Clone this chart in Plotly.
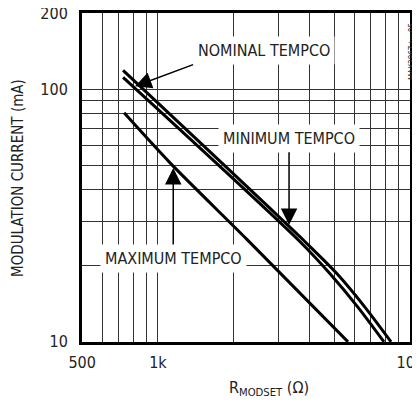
import math
import plotly.graph_objects as go

# Data (R_MODSET in ohms, modulation current in mA)
r_min = [727, 3836, 5140, 6640, 8420]
i_min = [118.6, 24.9, 18.6, 13.7, 10]
r_nom = [727, 3665, 4820, 6226, 7893]
i_nom = [111.3, 24.9, 18.6, 13.7, 10]
r_max = [734, 1117, 2260, 5680]
i_max = [80.6, 51.1, 25.4, 10]

x_tickvals = [500, 600, 700, 800, 900, 1000, 2000, 3000, 4000, 5000, 6000, 7000, 8000, 9000, 10000]
x_ticktext = ["500", "", "", "", "", "1k", "", "", "", "", "", "", "", "", "10k"]
y_tickvals = [10, 20, 30, 40, 50, 60, 70, 80, 90, 100, 200]
y_ticktext = ["10", "", "", "", "", "", "", "", "", "100", "200"]

FONT = "Liberation Sans Narrow, DejaVu Sans Condensed, Roboto Condensed, Arial Narrow, sans-serif"
TXT = "#222222"
LINE = dict(color="black", width=3, shape="spline", smoothing=0.8)
L = math.log10

fig = go.Figure()
for xs, ys, name in [(r_min, i_min, "MINIMUM TEMPCO"), (r_nom, i_nom, "NOMINAL TEMPCO"), (r_max, i_max, "MAXIMUM TEMPCO")]:
    fig.add_trace(go.Scatter(x=xs, y=ys, mode="lines", line=LINE, name=name, showlegend=False))

axis_common = dict(type="log", showgrid=True, gridcolor="#333333", gridwidth=1, showline=True,
                   linecolor="black", linewidth=3, mirror=True, ticks="", zeroline=False,
                   automargin=False, ticklabeloverflow="allow",
                   tickfont=dict(family=FONT, size=16, color=TXT))
fig.update_xaxes(range=[L(499.5), L(10010)], tickvals=x_tickvals, ticktext=x_ticktext,
                 ticklabelstandoff=4, **axis_common)
fig.update_yaxes(range=[L(9.99), L(200.2)], tickvals=y_tickvals, ticktext=y_ticktext,
                 ticklabelstandoff=8, **axis_common)

ann_font = dict(family=FONT, size=16, color=TXT)
arrow_kw = dict(showarrow=True, arrowhead=2, arrowwidth=1.5, arrowsize=2.2, arrowcolor="black",
                axref="x", ayref="y", xref="x", yref="y", font=ann_font, bgcolor="white", borderpad=4)

# labels with arrows: x,y = arrow tip; ax,ay = text anchor
fig.add_annotation(x=L(811), y=L(102.7), ax=L(1379), ay=L(125.1), text="NOMINAL TEMPCO",
                   xanchor="left", yanchor="bottom", **arrow_kw)
fig.add_annotation(x=L(3314), y=L(29.0), ax=L(3314), ay=L(63.9), text="MINIMUM TEMPCO", **arrow_kw)
fig.add_annotation(x=L(1150), y=L(48.8), ax=L(1150), ay=L(21.4), text="MAXIMUM TEMPCO", **arrow_kw)

# axis titles (paper coords relative to plot area; reference pixel positions)
fig.add_annotation(x=(18 - 82) / 328, y=(342 - 178) / 329, xref="paper", yref="paper",
                   xanchor="center", yanchor="middle",
                   text="MODULATION CURRENT (mA)", textangle=-90, showarrow=False,
                   font=dict(family=FONT, size=15, color=TXT))
fig.add_annotation(x=(269 - 82) / 328, y=(342 - 388) / 329, xref="paper", yref="paper",
                   xanchor="center", yanchor="middle",
                   text="R<sub>MODSET</sub> (Ω)", showarrow=False,
                   font=dict(family=FONT, size=16, color=TXT))
# figure id tag
fig.add_annotation(x=(412 - 82) / 328, y=(342 - 52) / 329, xref="paper", yref="paper",
                   xanchor="center", yanchor="middle",
                   text="MAX3867 toc05", textangle=-90, showarrow=False,
                   font=dict(family=FONT, size=8, color="#333333"))

# page body has an 8px margin: size the figure so the plot area lands at the reference pixels
fig.update_layout(width=412, height=397, margin=dict(l=74, r=10, t=5, b=63, autoexpand=False),
                  paper_bgcolor="white", plot_bgcolor="white", showlegend=False)

fig.write_html("out.html")
